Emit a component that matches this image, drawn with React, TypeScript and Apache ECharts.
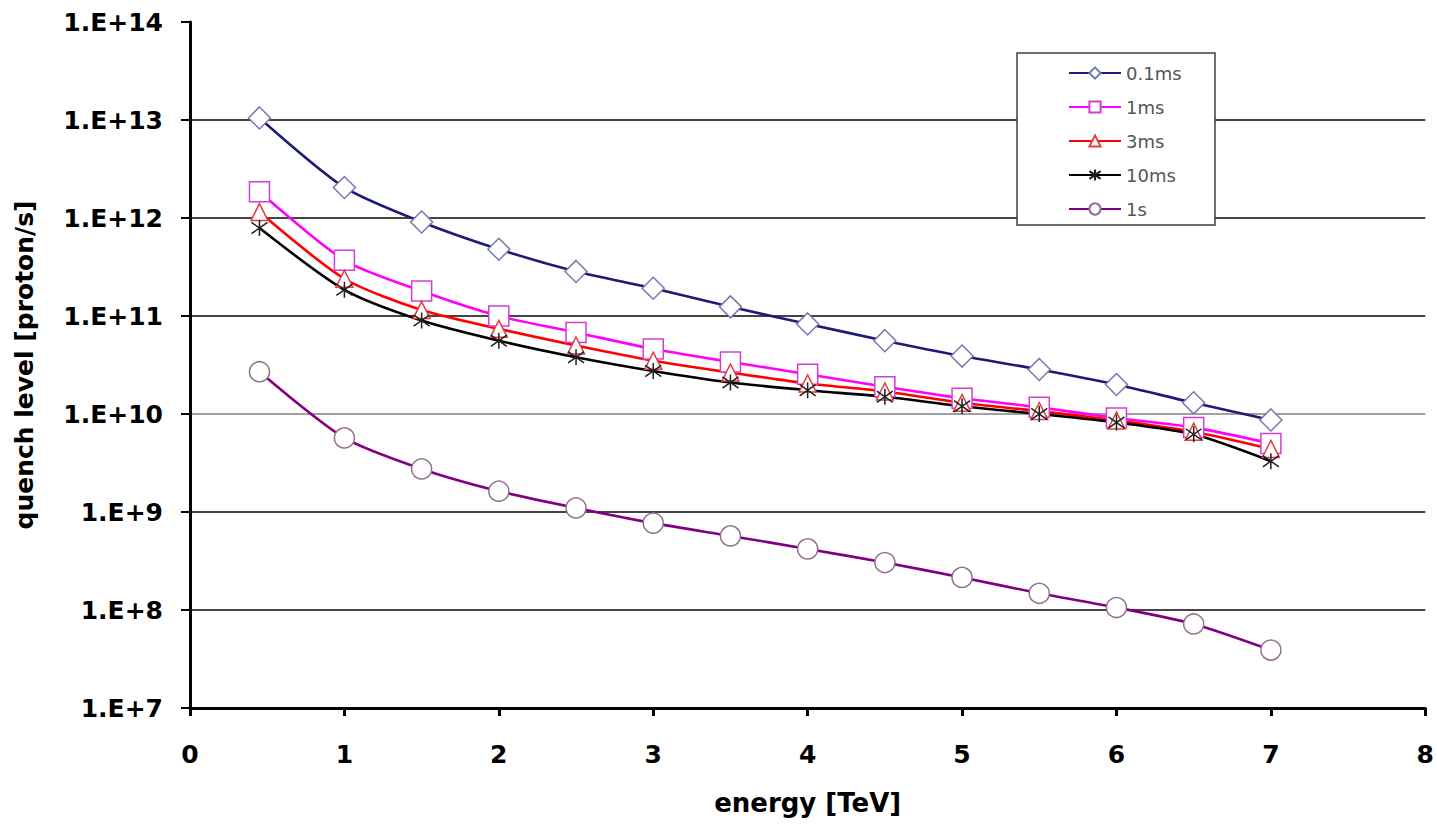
import React, { useEffect, useRef } from "react";
import * as echarts from "echarts";

const energy = [0.45, 1, 1.5, 2, 2.5, 3, 3.5, 4, 4.5, 5, 5.5, 6, 6.5, 7];
const seriesNames = ["0.1ms", "1ms", "3ms", "10ms", "1s"];
const q01ms = [1.05e13, 2.05e12, 9.1e11, 4.8e11, 2.85e11, 1.92e11, 1.24e11, 8.3e10, 5.6e10, 3.9e10, 2.85e10, 2.0e10, 1.3e10, 8.7e9];
const q1ms = [1.85e12, 3.7e11, 1.8e11, 1.0e11, 6.8e10, 4.6e10, 3.4e10, 2.55e10, 1.9e10, 1.45e10, 1.17e10, 9.1e9, 7.3e9, 5.0e9];
const q3ms = [1.15e12, 2.4e11, 1.15e11, 7.4e10, 5.0e10, 3.5e10, 2.65e10, 2.05e10, 1.7e10, 1.3e10, 1.07e10, 8.6e9, 6.6e9, 4.4e9];
const q10ms = [7.9e11, 1.85e11, 9.0e10, 5.6e10, 3.8e10, 2.75e10, 2.1e10, 1.75e10, 1.5e10, 1.2e10, 1.0e10, 8.2e9, 6.2e9, 3.3e9];
const q1s = [2.7e10, 5.7e9, 2.75e9, 1.63e9, 1.1e9, 7.7e8, 5.7e8, 4.2e8, 3.05e8, 2.15e8, 1.48e8, 1.06e8, 7.2e7, 3.9e7];
const xTicks = [0, 1, 2, 3, 4, 5, 6, 7, 8];
const yExponents = [7, 8, 9, 10, 11, 12, 13, 14];

const AXIS_FONT = "DejaVu Sans";

export default function App() {
  const ref = useRef<HTMLDivElement>(null);
  useEffect(() => {
    if (!ref.current) return;
    const chart = echarts.init(ref.current, null, { renderer: "svg" });
    const pair = (ys: number[]) => energy.map((x, i) => [x, ys[i]]);
    const star = "path://M5,0L5,10M0.7,1.5L9.3,8.5M0.7,8.5L9.3,1.5";
    const mk = (
      name: string,
      ys: number[],
      lineColor: string,
      symbol: string,
      size: number,
      border: string,
      fill: string
    ) => ({
      name,
      type: "line",
      data: pair(ys),
      symbol,
      symbolSize: size,
      showAllSymbol: true,
      smooth: 0.25,
      lineStyle: { color: lineColor, width: 2.6 },
      itemStyle: { color: fill, borderColor: border, borderWidth: 1.5 },
      color: lineColor,
    });
    chart.setOption({
      animation: false,
      backgroundColor: "#ffffff",
      grid: { left: 190, top: 22, right: 7, bottom: 116, containLabel: false },
      legend: {
        orient: "vertical",
        left: 1063,
        top: 59,
        itemWidth: 52,
        itemHeight: 14,
        itemGap: 16,
        data: seriesNames,
        textStyle: { fontFamily: AXIS_FONT, fontSize: 18, color: "#555555" },
        z: 5,
      },
      graphic: [
        {
          type: "rect",
          z: 3,
          shape: { x: 1017, y: 53, width: 198, height: 172 },
          style: { fill: "#ffffff", stroke: "#404040", lineWidth: 1.5 },
        },
      ],
      xAxis: {
        type: "value",
        min: xTicks[0],
        max: xTicks[xTicks.length - 1],
        interval: 1,
        name: "energy [TeV]",
        nameLocation: "middle",
        nameGap: 82,
        nameTextStyle: { fontFamily: AXIS_FONT, fontWeight: "bold", fontSize: 26, color: "#000" },
        axisLine: { lineStyle: { color: "#000", width: 3 } },
        axisTick: { show: true, inside: false, length: 8, lineStyle: { color: "#000", width: 3 } },
        axisLabel: { margin: 34, fontFamily: AXIS_FONT, fontWeight: "bold", fontSize: 25, color: "#000" },
        splitLine: { show: false },
      },
      yAxis: {
        type: "log",
        logBase: 10,
        min: Math.pow(10, yExponents[0]),
        max: Math.pow(10, yExponents[yExponents.length - 1]),
        name: "quench level [proton/s]",
        nameLocation: "middle",
        nameGap: 153,
        nameTextStyle: { fontFamily: AXIS_FONT, fontWeight: "bold", fontSize: 25, color: "#000" },
        axisLine: { show: true, lineStyle: { color: "#000", width: 3 } },
        axisTick: { show: true, inside: false, length: 9, lineStyle: { color: "#000", width: 2 } },
        axisLabel: {
          margin: 27,
          fontFamily: AXIS_FONT,
          fontWeight: "bold",
          fontSize: 25,
          color: "#000",
          formatter: (v: number) => "1.E+" + Math.round(Math.log10(v)),
        },
        splitLine: {
          show: true,
          showMaxLine: false,
          lineStyle: {
            color: ["#444444", "#444444", "#444444", "#a0a0a0", "#444444", "#444444", "#444444", "#444444"],
            width: 1.8,
          },
        },
      },
      series: [
        mk(seriesNames[0], q01ms, "#1c1c78", "diamond", 22, "#7878b0", "#ffffff"),
        mk(seriesNames[1], q1ms, "#ff00ff", "rect", 20, "#d040d0", "#ffffff"),
        mk(seriesNames[2], q3ms, "#ff0000", "triangle", 17, "#e04040", "#ffffff"),
        mk(seriesNames[3], q10ms, "#000000", star, 16, "#202020", "none"),
        mk(seriesNames[4], q1s, "#800080", "circle", 20, "#907090", "#ffffff"),
      ],
    });
    return () => chart.dispose();
  }, []);
  return (
    <div
      ref={ref}
      style={{ position: "fixed", left: 0, top: 0, width: 1437, height: 824, background: "#fff" }}
    />
  );
}
